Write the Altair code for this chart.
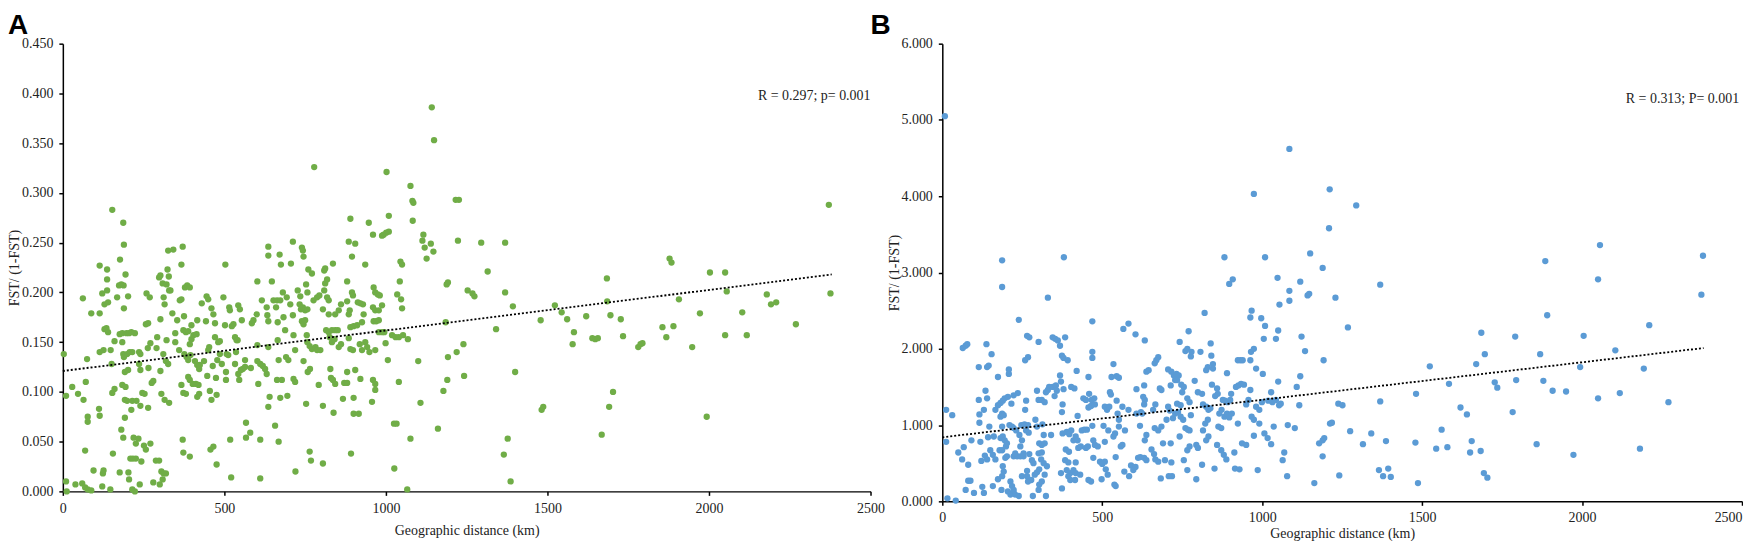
import altair as alt
import pandas as pd

# ---------------- data ----------------
A_POINTS = [
    (778,0.326),(1002,0.321),(1076,0.307),(1082,0.292),(1085,0.290),(1083,0.272),(1216,0.293),(1226,0.293),(1223,0.252),
    (153,0.283),(187,0.270),(189,0.248),(177,0.233),(194,0.218),(1142,0.386),(1149,0.353),
    (3,0.138),(10,0.096),(10,0.010),(12,0.000),(29,0.105),(39,0.007),(47,0.098),(60,0.008),(69,0.004),(77,0.002),(88,0.001),
    (62,0.194),(64,0.092),(69,0.041),(71,0.110),(75,0.133),(77,0.075),(77,0.070),(88,0.179),(95,0.021),(114,0.179),(114,0.140),
    (112,0.083),(114,0.076),(114,0.227),(124,0.018),(126,0.021),(122,0.005),(122,0.199),(126,0.142),(129,0.163),(135,0.164),
    (140,0.160),(137,0.223),(137,0.213),(137,0.202),(129,0.188),(140,0.190),(147,0.002),(148,0.142),(151,0.128),(153,0.099),
    (160,0.103),(155,0.038),(160,0.151),(168,0.195),(174,0.207),(181,0.208),(188,0.207),(176,0.158),(184,0.159),(176,0.019),
    (181,0.062),(187,0.054),(184,0.150),(187,0.138),(189,0.135),(189,0.184),(184,0.107),(194,0.105),(192,0.120),(192,0.092),
    (199,0.091),(192,0.074),(197,0.159),(205,0.159),(212,0.160),(199,0.138),(207,0.140),(215,0.140),(202,0.196),(202,0.122),
    (203,0.019),(205,0.012),(209,0.033),(217,0.033),(226,0.033),(212,0.082),(215,0.091),(228,0.091),(240,0.086),(215,0.002),
    (223,0.000),(219,0.054),(226,0.048),(234,0.053),(223,0.159),(236,0.140),(240,0.138),(236,0.128),(240,0.122),(238,0.007),
    (243,0.030),(246,0.099),(253,0.098),(251,0.046),(257,0.042),(257,0.168),(264,0.169),(259,0.199),(269,0.195),(263,0.144),
    (264,0.084),(265,0.124),(271,0.048),(275,0.109),(280,0.111),(271,0.149),(280,0.009),(288,0.031),(298,0.031),(290,0.144),
    (292,0.155),(298,0.215),(302,0.217),(309,0.209),(300,0.007),(302,0.173),(302,0.121),(305,0.098),(305,0.020),(312,0.018),
    (319,0.018),(309,0.012),(311,0.138),(319,0.131),(326,0.128),(312,0.195),(315,0.188),(315,0.092),(321,0.208),(324,0.223),
    (328,0.216),(326,0.242),(342,0.243),(321,0.152),(329,0.202),(333,0.202),(329,0.089),(339,0.179),(348,0.159),(348,0.150),
    (354,0.172),(360,0.142),(367,0.228),(371,0.246),(362,0.192),(367,0.193),(371,0.052),(373,0.039),(375,0.176),(373,0.162),
    (381,0.160),(388,0.161),(378,0.205),(385,0.207),(393,0.205),(367,0.107),(373,0.099),(381,0.098),(376,0.138),(383,0.135),
    (388,0.132),(395,0.137),(388,0.115),(393,0.112),(402,0.108),(412,0.108),(420,0.107),(393,0.035),(393,0.148),(398,0.153),
    (404,0.157),(414,0.158),(398,0.167),(409,0.131),(416,0.127),(422,0.123),(416,0.172),(416,0.095),(422,0.098),(424,0.127),
    (430,0.189),(437,0.131),(445,0.196),(450,0.193),(447,0.116),(443,0.171),(450,0.142),(453,0.145),(455,0.101),(460,0.092),
    (457,0.042),(466,0.045),(460,0.184),(466,0.178),(471,0.169),(464,0.126),(471,0.155),(474,0.114),(476,0.027),(476,0.097),
    (481,0.150),(486,0.151),(478,0.132),(492,0.128),(486,0.138),(497,0.195),(503,0.228),(502,0.167),(505,0.112),(505,0.120),
    (507,0.138),(512,0.137),(515,0.185),(517,0.182),(518,0.052),(521,0.014),(523,0.166),(528,0.168),(533,0.155),(538,0.152),
    (533,0.128),(536,0.140),(543,0.187),(548,0.183),(541,0.152),(543,0.118),(551,0.122),(557,0.123),(564,0.125),(546,0.112),
    (554,0.172),(564,0.132),(567,0.069),(567,0.054),(580,0.059),(582,0.124),(585,0.169),(590,0.172),(600,0.178),(602,0.211),
    (602,0.147),(602,0.131),(611,0.128),(619,0.126),(626,0.123),(631,0.118),(605,0.108),(611,0.052),(611,0.013),(616,0.192),
    (631,0.185),(633,0.177),(636,0.171),(636,0.145),(636,0.246),(636,0.237),(640,0.095),(636,0.085),(647,0.211),(652,0.192),
    (657,0.066),(660,0.185),(663,0.192),(673,0.192),(665,0.152),(668,0.050),(665,0.170),(668,0.132),(671,0.238),(675,0.228),
    (663,0.112),(678,0.112),(673,0.094),(681,0.200),(683,0.175),(688,0.162),(693,0.195),(691,0.135),(698,0.132),(695,0.096),
    (704,0.188),(706,0.229),(712,0.251),(712,0.177),(714,0.157),(714,0.113),(719,0.110),(719,0.142),(720,0.020),(727,0.202),
    (733,0.188),(737,0.183),(743,0.185),(750,0.182),(757,0.183),(735,0.196),(740,0.245),(743,0.242),(745,0.236),(740,0.171),
    (745,0.168),(750,0.172),(745,0.131),(753,0.208),(753,0.088),(755,0.157),(757,0.150),(764,0.146),(771,0.143),(782,0.145),
    (787,0.142),(797,0.142),(757,0.200),(760,0.223),(771,0.219),(758,0.120),(765,0.123),(764,0.040),(768,0.031),(776,0.192),
    (787,0.195),(794,0.197),(792,0.107),(805,0.183),(805,0.086),(805,0.028),(809,0.222),(812,0.224),(812,0.209),(809,0.202),
    (818,0.213),(818,0.195),(823,0.192),(823,0.178),(815,0.162),(823,0.160),(833,0.162),(843,0.162),(851,0.162),(826,0.155),
    (833,0.150),(841,0.153),(828,0.123),(830,0.114),(836,0.112),(843,0.108),(836,0.229),(838,0.079),(843,0.178),(854,0.182),
    (861,0.188),(854,0.145),(861,0.148),(867,0.093),(871,0.109),(880,0.109),(880,0.211),(880,0.120),(880,0.191),(885,0.178),
    (888,0.182),(885,0.154),(890,0.165),(885,0.251),(890,0.274),(890,0.143),(898,0.142),(892,0.038),(895,0.236),(895,0.200),
    (898,0.197),(900,0.094),(900,0.166),(911,0.167),(905,0.249),(905,0.122),(900,0.078),(916,0.078),(913,0.190),(921,0.189),
    (929,0.188),(919,0.148),(926,0.142),(921,0.113),(926,0.170),(931,0.178),(936,0.228),(936,0.150),(942,0.145),(947,0.270),
    (949,0.140),(957,0.090),(960,0.258),(962,0.205),(967,0.200),(975,0.198),(981,0.197),(960,0.185),(967,0.182),(978,0.182),
    (960,0.112),(967,0.108),(962,0.171),(970,0.171),(978,0.172),(967,0.142),(967,0.102),(978,0.160),(988,0.160),(995,0.160),
    (988,0.187),(988,0.257),(993,0.258),(1001,0.260),(1009,0.261),(999,0.149),(1006,0.132),(1009,0.277),(1019,0.157),
    (1030,0.155),(1040,0.155),(1053,0.157),(1068,0.153),(1025,0.068),(1033,0.068),(1026,0.023),(1035,0.198),(1040,0.110),
    (1043,0.211),(1045,0.231),(1050,0.228),(1047,0.193),(1050,0.184),(1066,0.002),(1076,0.053),(1100,0.131),(1107,0.089),
    (1116,0.258),(1113,0.252),(1120,0.245),(1126,0.234),(1139,0.249),(1147,0.241),(1161,0.063),(1178,0.101),(1185,0.170),
    (1188,0.208),(1192,0.210),(1190,0.112),(1192,0.135),(1219,0.140),(1240,0.148),(1242,0.116),(1253,0.202),(1268,0.199),
    (1274,0.196),(1295,0.250),(1369,0.250),(1315,0.221),(1369,0.200),(1393,0.186),(1341,0.163),(1400,0.120),(1377,0.053),
    (1365,0.037),(1386,0.010),(1479,0.172),(1482,0.082),(1487,0.085),(1523,0.187),(1544,0.180),(1561,0.173),(1582,0.160),
    (1578,0.148),(1620,0.176),(1639,0.154),(1648,0.153),(1656,0.154),(1684,0.214),(1685,0.191),(1695,0.177),(1727,0.173),
    (1734,0.156),(1703,0.100),(1691,0.085),(1668,0.057),(1781,0.145),(1788,0.148),(1794,0.149),(1856,0.165),(1868,0.155),
    (1890,0.166),(1878,0.234),(1884,0.230),(1907,0.193),(1948,0.145),(1972,0.179),(1993,0.075),(2003,0.220),(2050,0.220),
    (2055,0.201),(2050,0.157),(2103,0.180),(2117,0.157),(2179,0.198),(2192,0.188),(2208,0.190),(2269,0.168),(2371,0.288),
    (2376,0.199),
]

B_POINTS = [
    (8,5.05),(1085,4.62),(974,4.03),(1211,4.09),
    (12,1.20),(31,1.13),(12,0.78),(16,0.04),(42,0.01),(50,0.64),(62,0.55),(67,0.71),(64,2.01),(73,2.04),(78,2.06),(73,0.15),
    (81,0.27),(88,0.27),(81,0.48),(91,0.80),(99,0.11),(114,1.76),(114,1.33),(116,1.14),(116,1.03),(119,0.78),(122,0.53),
    (125,0.19),(130,0.11),(130,1.20),(135,1.45),(140,1.35),(138,2.06),(140,1.76),(145,1.78),(133,0.60),(140,0.55),(143,0.84),
    (147,0.98),(154,1.93),(150,0.67),(158,0.61),(161,0.85),(158,0.20),(166,1.20),(166,0.55),(174,1.63),(174,1.26),(182,1.29),
    (189,1.32),(195,1.35),(182,1.11),(187,1.15),(192,1.13),(187,0.98),(182,0.83),(189,0.85),(195,0.80),(179,0.67),(187,0.67),
    (174,0.29),(185,0.15),(187,3.16),(187,2.81),(189,0.46),(192,0.39),(187,0.33),(197,0.57),(202,0.59),(199,0.72),(202,0.76),
    (205,1.37),(208,1.73),(208,1.67),(210,1.00),(218,0.98),(213,0.26),(218,0.20),(205,0.13),(213,0.09),(223,0.15),(228,0.09),
    (216,1.28),(223,1.39),(236,1.42),(223,0.96),(231,0.93),(223,0.59),(234,0.59),(244,0.59),(254,0.59),(228,0.63),(239,2.38),
    (239,0.07),(241,0.87),(249,0.80),(244,0.72),(247,1.00),(257,1.01),(268,1.00),(249,0.33),(265,0.33),(254,0.63),(259,1.20),
    (262,1.32),(259,1.85),(268,1.89),(265,2.17),(272,2.15),(262,0.93),(270,0.90),(268,0.26),(278,0.28),(265,0.40),(272,0.62),
    (280,0.54),(285,0.50),(283,0.07),(289,0.35),(296,0.38),(303,0.42),(291,1.07),(296,0.98),(296,1.45),(301,2.09),(301,1.33),
    (311,1.33),(320,1.30),(303,0.76),(311,0.74),(320,0.76),(301,0.63),(311,0.64),(303,0.22),(311,0.26),(301,0.15),(309,0.55),
    (317,0.50),(313,1.01),(317,0.87),(320,0.35),(324,0.07),(324,1.43),(330,1.46),(327,0.46),(330,2.67),(334,1.50),(345,1.50),
    (355,1.52),(340,0.87),(345,2.15),(353,2.13),(361,2.11),(351,1.38),(358,1.45),(368,2.04),(374,1.91),(379,1.88),(368,1.65),
    (371,1.57),(379,1.47),(374,1.17),(376,1.27),(376,0.89),(371,0.37),(374,0.17),(380,3.20),(384,2.15),(384,0.54),(394,0.51),
    (386,0.68),(396,0.65),(389,0.91),(397,0.88),(403,0.93),(392,1.85),(389,0.41),(400,0.37),(410,0.41),(417,0.37),(394,0.33),
    (403,1.50),(413,1.48),(400,0.28),(415,0.28),(410,0.80),(417,0.85),(423,0.80),(417,0.51),(420,1.71),(423,1.12),(425,0.70),
    (433,0.72),(431,0.35),(436,0.93),(444,0.94),(452,0.94),(441,1.35),(449,1.33),(449,0.70),(455,0.72),(457,1.63),(457,0.28),
    (465,0.26),(459,1.41),(467,1.33),(475,1.35),(457,1.23),(465,1.25),(477,1.27),(469,2.36),(469,1.96),(469,1.88),(469,0.99),
    (472,0.80),(477,0.74),(486,0.72),(472,0.57),(493,0.52),(500,0.49),(508,0.52),(498,0.29),(504,0.99),(508,1.24),(515,1.20),
    (522,1.24),(508,0.78),(511,0.42),(517,0.35),(519,0.93),(524,1.43),(527,1.40),(529,1.63),(535,1.80),(535,0.85),(540,0.89),
    (538,0.22),(542,0.20),(542,0.58),(545,1.32),(545,1.64),(552,1.62),(548,1.15),(552,1.07),(552,0.98),(558,0.72),(563,0.74),
    (563,1.24),(566,2.26),(569,0.39),(571,0.93),(582,2.33),(582,1.20),(584,0.33),(590,0.47),(597,0.41),(604,0.45),(604,2.19),
    (607,1.47),(607,1.15),(612,0.57),(619,0.58),(631,0.57),(618,0.99),(621,1.17),(625,1.15),(628,1.37),(633,1.33),(631,1.27),
    (633,2.11),(631,1.52),(633,0.80),(638,1.70),(645,1.72),(638,0.87),(638,0.54),(654,0.68),(662,0.62),(659,1.20),(666,1.27),
    (664,0.96),(675,0.93),(685,0.98),(664,1.81),(669,1.85),(675,1.89),(666,0.55),(675,0.52),(680,1.48),(685,1.46),(683,0.30),
    (690,0.76),(696,0.54),(701,1.07),(706,1.24),(711,1.19),(706,1.73),(716,1.70),(724,1.65),(732,1.67),(739,1.65),(708,0.33),
    (718,0.33),(714,1.52),(714,0.76),(716,0.51),(721,1.09),(728,1.15),(737,1.17),(745,1.11),(753,1.07),(760,0.96),(768,0.94),
    (773,0.93),(728,1.59),(734,1.59),(747,1.53),(755,1.50),(734,1.28),(745,1.26),(742,2.09),(742,0.85),(750,1.43),(755,0.54),
    (760,1.97),(766,2.00),(777,1.90),(779,1.96),(766,1.35),(773,1.30),(766,0.67),(773,0.72),(766,0.41),(770,2.23),(777,1.13),
    (789,1.58),(794,0.74),(794,0.29),(799,0.70),(799,1.43),(812,1.41),(807,1.96),(812,0.48),(815,1.27),(815,0.93),(820,2.47),
    (825,1.72),(830,1.76),(822,1.02),(830,1.07),(825,1.24),(832,1.20),(838,1.22),(825,0.80),(832,0.85),(839,2.07),(841,1.91),
    (846,1.80),(846,1.74),(843,1.53),(851,0.43),(853,1.38),(861,1.41),(859,1.48),(859,0.74),(863,0.98),(872,0.96),(866,1.15),
    (873,1.20),(882,1.11),(890,1.15),(897,1.10),(905,1.15),(872,0.67),(880,0.61),(888,0.55),(877,1.33),(884,1.32),(892,1.30),
    (900,1.33),(882,3.20),(890,1.68),(897,2.85),(908,2.91),(903,1.41),(913,0.64),(915,0.43),(929,0.42),(918,1.50),(926,1.52),
    (934,1.54),(943,1.53),(924,1.85),(932,1.85),(939,1.85),(924,1.02),(937,0.76),(950,0.74),(950,1.27),(957,1.33),(963,1.46),
    (963,1.85),(963,2.41),(967,2.50),(965,1.96),(974,2.00),(967,1.11),(974,1.07),(974,0.86),(981,1.74),(981,1.24),(991,1.20),
    (986,0.41),(991,1.02),(997,2.40),(999,1.30),(1002,1.67),(1005,2.13),(1009,2.30),(1009,3.20),(1007,0.89),(1017,0.83),
    (1028,0.75),(1019,1.32),(1032,1.30),(1043,1.33),(1053,1.26),(1058,1.28),(1028,1.43),(1036,0.98),(1043,2.13),(1048,2.93),
    (1050,2.24),(1054,2.58),(1050,1.57),(1064,0.54),(1069,0.64),(1078,0.33),(1080,1.00),(1102,0.96),(1085,2.76),(1085,2.63),
    (1108,1.50),(1116,1.26),(1119,1.64),(1119,2.88),(1123,2.16),(1134,1.97),(1142,2.70),(1147,2.72),(1150,3.25),(1163,0.24),
    (1178,0.76),(1189,0.80),(1194,0.83),(1189,3.06),(1189,0.59),(1192,1.85),(1212,1.02),(1209,3.58),
    (1294,3.88),(1229,2.67),(1268,2.28),(1369,2.84),(1238,1.28),(1251,1.26),(1218,1.03),(1275,0.92),(1241,0.34),(1315,0.75),
    (1341,0.89),(1369,1.31),(1387,0.79),(1365,0.41),(1378,0.33),(1394,0.43),(1402,0.32),(1479,0.77),(1487,0.24),(1481,1.41),
    (1524,1.77),(1544,0.69),(1579,0.71),(1561,0.94),(1584,1.54),(1620,1.23),(1640,1.14),(1650,0.64),(1655,0.79),(1683,0.66),
    (1669,1.80),(1685,2.21),(1696,1.93),(1693,0.37),(1704,0.31),(1727,1.56),(1735,1.49),(1783,1.17),(1791,2.16),(1794,1.59),
    (1858,0.75),(1869,1.93),(1879,1.58),(1885,3.15),(1891,2.44),(1908,1.45),(1950,1.44),(1973,0.61),(1994,1.76),(2005,2.17),
    (2050,2.91),(2056,3.36),(2050,1.35),(2104,1.98),(2118,1.42),(2181,0.69),(2193,1.74),(2210,2.31),(2270,1.30),(2373,2.71),
    (2378,3.22),
]

A_TREND_KM = [0, 2380]
A_TREND_VAL = [0.121, 0.218]
B_TREND_KM = [0, 2380]
B_TREND_VAL = [0.84, 2.01]

A_NOTE = "R = 0.297; p= 0.001"
B_NOTE = "R = 0.313; P= 0.001"
A_NOTE_KM, A_NOTE_VAL = 2500, 0.397
B_NOTE_KM, B_NOTE_VAL = 2491, 5.27

X_TICKS = [0, 500, 1000, 1500, 2000, 2500]
A_Y_TICKS = [0, 0.05, 0.10, 0.15, 0.20, 0.25, 0.30, 0.35, 0.40, 0.45]
B_Y_TICKS = [0, 1, 2, 3, 4, 5, 6]

X_TITLE = "Geographic distance (km)"
Y_TITLE = "FST/ (1-FST)"

GREEN = "#70AD47"
BLUE = "#5B9BD5"
SERIF = "Liberation Serif, Times New Roman, serif"


def panel(points, tkm, tval, note, nkm, nval, ymax, yticks, color, letter, letter_dx,
          w, h, x_label_pad, x_title_pad, last_right):
    pts = pd.DataFrame(points, columns=["km", "val"])
    trend = pd.DataFrame({"km": tkm, "val": tval})
    ann = pd.DataFrame({"km": [nkm], "val": [nval], "t": [note]})
    let = pd.DataFrame({"t": [letter]})

    xaxis_kw = dict(values=X_TICKS, format="d", title=X_TITLE, labelFlush=False,
                    tickSize=4, labelPadding=x_label_pad, titlePadding=x_title_pad)
    if last_right:
        xaxis_kw["labelAlign"] = {"expr": "datum.value >= 2500 ? 'right' : 'center'"}
    xenc = alt.X("km:Q", scale=alt.Scale(domain=[0, 2500], nice=False),
                 axis=alt.Axis(**xaxis_kw))
    yenc = alt.Y("val:Q", scale=alt.Scale(domain=[0, ymax], nice=False),
                 axis=alt.Axis(values=yticks, format=".3f", title=Y_TITLE,
                               tickSize=4, labelPadding=6, titlePadding=3,
                               minExtent=38, maxExtent=38))

    dots = alt.Chart(pts).mark_circle(size=40, opacity=1, color=color).encode(x=xenc, y=yenc)
    line = alt.Chart(trend).mark_line(color="black", strokeWidth=1.8,
                                      strokeDash=[2, 2]).encode(x=xenc, y=yenc)
    txt = alt.Chart(ann).mark_text(align="right", baseline="middle", font=SERIF,
                                   fontSize=14, color="#222").encode(x=xenc, y=yenc, text="t:N")
    lab = alt.Chart(let).mark_text(align="left", baseline="top", font="Liberation Sans",
                                   fontSize=28, fontWeight="bold", color="black").encode(
        x=alt.value(letter_dx), y=alt.value(-32), text="t:N")
    return alt.layer(dots, line, txt, lab).properties(width=w, height=h)


pa = panel(A_POINTS, A_TREND_KM, A_TREND_VAL, A_NOTE, A_NOTE_KM, A_NOTE_VAL,
           0.45, A_Y_TICKS, GREEN, "A", -55, 810, 449, 6, 8, False)
pb = panel(B_POINTS, B_TREND_KM, B_TREND_VAL, B_NOTE, B_NOTE_KM, B_NOTE_VAL,
           6, B_Y_TICKS, BLUE, "B", -72, 802, 459, 5, 2, True)

chart = alt.hconcat(pa, pb, spacing=72, bounds="flush").properties(
    padding={"left": 0, "top": 3, "right": 0, "bottom": 0}, background="white"
).configure_view(strokeWidth=0).configure_axis(
    grid=False, domainColor="black", domainWidth=1.5, tickColor="black", tickWidth=1.5,
    labelFont=SERIF, labelFontSize=14, labelColor="#222",
    titleFont=SERIF, titleFontSize=14, titleFontWeight="normal", titleColor="#222",
)

chart.save("out.html", embed_options={"renderer": "svg", "actions": False})
